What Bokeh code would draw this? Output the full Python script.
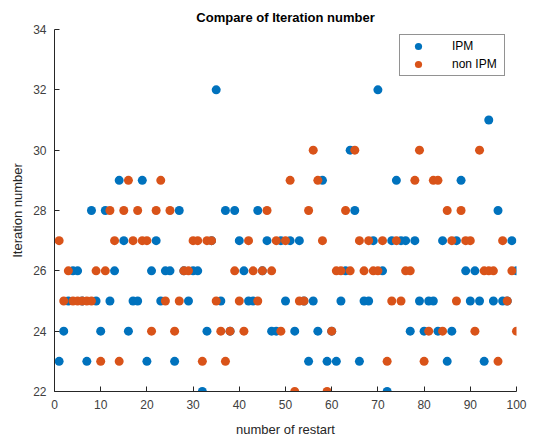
from bokeh.plotting import figure
from bokeh.models import Range1d, FixedTicker, Legend, LegendItem, ColumnDataSource
from bokeh.embed import file_html
from bokeh.resources import INLINE

restart = list(range(1, 101))
ipm = [23, 24, 25, 26, 26, 25, 23, 28, 25, 24,
       28, 25, 26, 29, 27, 24, 25, 25, 29, 23,
       26, 27, 25, 26, 26, 23, 28, 26, 25, 26,
       26, 22, 24, 27, 32, 25, 28, 24, 28, 27,
       26, 25, 25, 28, 26, 27, 24, 24, 27, 25,
       27, 24, 27, 25, 23, 25, 24, 29, 23, 24,
       23, 25, 26, 30, 28, 23, 25, 25, 27, 32,
       26, 22, 27, 29, 27, 27, 24, 27, 25, 24,
       25, 25, 24, 27, 23, 24, 27, 29, 26, 25,
       26, 25, 23, 31, 25, 28, 25, 25, 27, 26]
non_ipm = [27, 25, 26, 25, 25, 25, 25, 25, 26, 23,
           26, 28, 27, 23, 28, 29, 27, 28, 27, 27,
           24, 28, 29, 25, 28, 24, 25, 26, 26, 27,
           27, 23, 27, 27, 25, 24, 23, 24, 26, 25,
           24, 27, 26, 25, 26, 28, 26, 27, 24, 27,
           29, 22, 25, 25, 28, 30, 29, 27, 22, 24,
           26, 26, 28, 26, 30, 27, 26, 27, 26, 26,
           27, 23, 25, 27, 25, 26, 26, 29, 30, 23,
           24, 29, 29, 24, 28, 27, 25, 28, 27, 27,
           24, 30, 26, 26, 26, 23, 27, 25, 26, 24]
x_ticks = list(range(0, 101, 10))
y_ticks = list(range(22, 35, 2))

src = ColumnDataSource(dict(x=restart, ipm=ipm, non=non_ipm))

p = figure(frame_width=462, frame_height=362, output_backend="svg", toolbar_location=None,
           x_range=Range1d(0, 100), y_range=Range1d(22, 34),
           min_border_left=54, min_border_right=12, min_border_bottom=47, min_border_top=29)
p.title.text = "Compare of Iteration number"
p.title.align = "center"
p.title.text_font = "Liberation Sans"
p.title.text_font_size = "13px"
p.title.text_font_style = "bold"
p.title.text_color = "#000000"
p.title.offset = 0
p.title.standoff = 10
p.outline_line_color = None
p.grid.visible = False
p.background_fill_color = "white"
p.border_fill_color = "white"

for ax in (p.xaxis[0], p.yaxis[0]):
    ax.major_tick_in = 5
    ax.major_tick_out = 0
    ax.minor_tick_in = 0
    ax.minor_tick_out = 0
    ax.axis_line_color = "#262626"
    ax.major_tick_line_color = "#262626"
    ax.major_label_text_font = "Liberation Sans"
    ax.major_label_text_font_size = "12px"
    ax.major_label_text_color = "#404040"
    ax.axis_label_text_font = "Liberation Sans"
    ax.axis_label_text_font_size = "13px"
    ax.axis_label_text_font_style = "normal"
    ax.axis_label_text_color = "#262626"

p.xaxis.ticker = FixedTicker(ticks=x_ticks)
p.yaxis.ticker = FixedTicker(ticks=y_ticks)
p.xaxis.axis_label = "number of restart"
p.yaxis.axis_label = "Iteration number"
p.xaxis.major_label_standoff = 8
p.xaxis.axis_label_standoff = 10
p.yaxis.major_label_standoff = 8
p.yaxis.axis_label_standoff = 5

r1 = p.scatter("x", "ipm", source=src, size=9, color="#0072BD", line_color=None)
r2 = p.scatter("x", "non", source=src, size=9, color="#D95319", line_color=None)

legend = Legend(items=[LegendItem(label="IPM", renderers=[r1]),
                       LegendItem(label="non IPM", renderers=[r2])],
                location=(345, 315))
legend.label_text_font = "Liberation Sans"
legend.label_text_font_size = "12px"
legend.label_text_color = "#000000"
legend.border_line_color = "#262626"
legend.border_line_width = 1
legend.padding = 2
legend.spacing = 0
legend.glyph_width = 32
legend.glyph_height = 18
legend.label_height = 18
legend.label_width = 50
legend.label_standoff = 18
legend.margin = 0
legend.background_fill_alpha = 1
p.add_layout(legend)

open("out.html", "w").write(file_html(p, INLINE))
